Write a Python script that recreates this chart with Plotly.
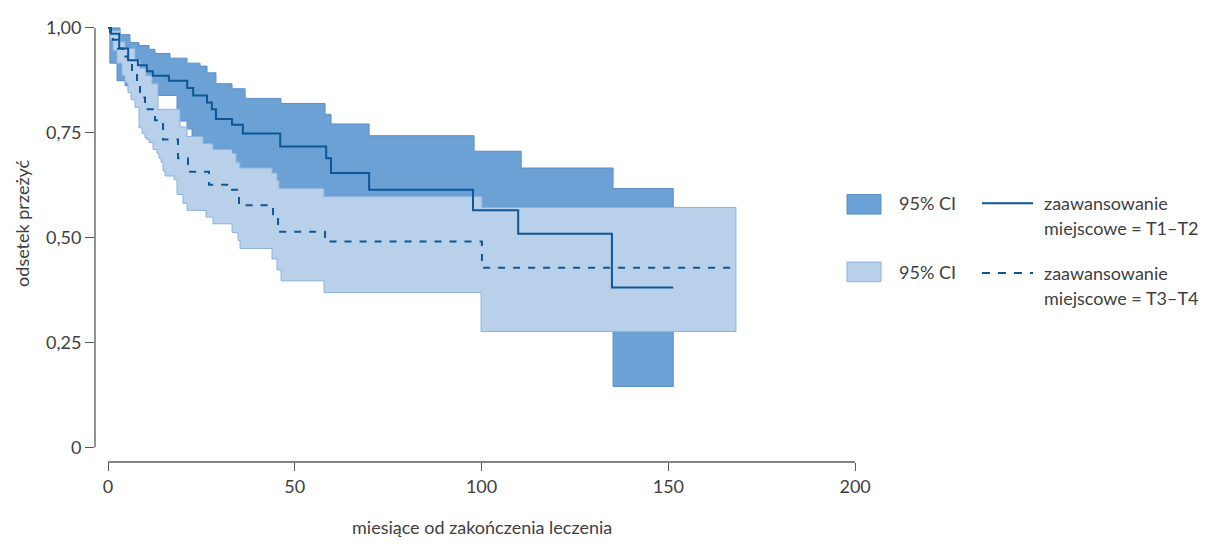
import plotly.graph_objects as go

# ---------------- data ----------------
# Kaplan-Meier: zaawansowanie miejscowe = T1–T2
t12_time = [0, 0.8, 3.0, 5.4, 8.0, 10.4, 12.0, 16.3, 21.2, 22.8, 26.5, 27.8, 28.9, 33.2, 36.1,
            46.1, 58.4, 59.7, 69.9, 97.7, 109.8, 134.9]
t12_surv = [1.0, 0.986, 0.951, 0.923, 0.911, 0.897, 0.886, 0.874, 0.857, 0.839, 0.822, 0.806,
            0.783, 0.769, 0.748, 0.717, 0.689, 0.654, 0.614, 0.565, 0.509, 0.381]
t12_end = 151.3

t12_up_time = [0, 3.21, 5.89, 8.30, 10.98, 12.58, 16.6, 21.15, 24.63, 26.5, 28.9, 33.2, 36.7,
               46.3, 58.1, 59.7, 69.9, 98.0, 110.6, 135.2]
t12_up = [1.0, 0.984, 0.965, 0.958, 0.949, 0.939, 0.928, 0.916, 0.909, 0.893, 0.867, 0.855,
          0.832, 0.820, 0.794, 0.771, 0.743, 0.706, 0.666, 0.617]

t12_lo_time = [0, 0.5, 2.41, 4.55, 8.57, 18.47, 19.28, 21.15, 22.49, 27.3, 33.2, 35.3, 45.25,
               57.8, 99.9, 135.2]
t12_lo = [1.0, 0.916, 0.874, 0.862, 0.839, 0.792, 0.778, 0.759, 0.717, 0.694, 0.659, 0.636,
          0.600, 0.554, 0.484, 0.145]

# Kaplan-Meier: zaawansowanie miejscowe = T3–T4
t34_time = [0, 0.54, 1.34, 2.68, 4.02, 5.35, 6.43, 7.76, 8.57, 9.91, 12.58, 14.73, 18.74,
            21.42, 27.04, 33.2, 35.07, 44.18, 45.52, 58.1, 100.1]
t34_surv = [1.0, 0.986, 0.972, 0.951, 0.932, 0.916, 0.897, 0.876, 0.834, 0.806, 0.780, 0.734,
            0.689, 0.657, 0.626, 0.614, 0.577, 0.556, 0.514, 0.491, 0.428]
t34_end = 168.1

t34_up_time = [0, 0.8, 3.21, 4.55, 7.23, 8.57, 10.17, 11.78, 13.39, 19.28, 21.15, 25.44, 28.1,
               33.2, 34.3, 35.3, 43.9, 45.25, 45.8, 57.8, 100.1]
t34_up = [1.0, 0.993, 0.967, 0.951, 0.923, 0.904, 0.886, 0.867, 0.806, 0.764, 0.741, 0.724,
          0.710, 0.701, 0.680, 0.666, 0.654, 0.636, 0.617, 0.598, 0.572]

t34_lo_time = [0, 0.54, 1.34, 2.41, 3.75, 4.55, 5.35, 6.16, 7.23, 8.30, 9.10, 9.91, 10.44,
               10.98, 12.05, 13.12, 13.65, 14.19, 14.73, 15.26, 17.67, 18.47, 20.08, 21.15,
               26.24, 28.11, 33.2, 34.81, 35.34, 43.91, 45.25, 46.32, 57.83, 99.87]
t34_lo = [1.0, 0.974, 0.946, 0.916, 0.886, 0.869, 0.846, 0.829, 0.811, 0.762, 0.748, 0.738,
          0.734, 0.727, 0.710, 0.701, 0.689, 0.680, 0.659, 0.647, 0.638, 0.603, 0.582, 0.565,
          0.549, 0.533, 0.512, 0.493, 0.474, 0.449, 0.423, 0.397, 0.369, 0.276]

x_ticks = [0, 50, 100, 150, 200]
y_ticks = [0, 0.25, 0.5, 0.75, 1.0]
y_ticktext = ["0", "0,25", "0,50", "0,75", "1,00"]

x_title = "miesiące od zakończenia leczenia"
y_title = "odsetek przeżyć"
ci_label = "95% CI"
group_line1 = "zaawansowanie"
group1_line2 = "miejscowe = T1–T2"
group2_line2 = "miejscowe = T3–T4"

# ---------------- style ----------------
FONT = "Lato"
TXT = "#404040"
AX = "#5a5a5a"
DARK_FILL = "#6ba1d4"
DARK_EDGE = "#5b8fc8"
LIGHT_FILL = "#b9d0ea"
LIGHT_EDGE = "#8cb2de"
CURVE = "#0d5796"
FS = 18

OFF = 8  # page body margin offset
W, H = 1217 - 2 * OFF, 547 - 2 * OFF
PL, PR, PT, PB = 95 - OFF, 857 - OFF, 16 - OFF, 462 - OFF
X_RANGE = [-3.48, 200.5]
Y_RANGE = [-0.035, 1.007]


def step_xy(times, vals, end):
    xs, ys = [times[0]], [vals[0]]
    for i in range(1, len(times)):
        xs += [times[i], times[i]]
        ys += [vals[i - 1], vals[i]]
    xs.append(end)
    ys.append(vals[-1])
    return xs, ys


def band(up_t, up_v, lo_t, lo_v, end):
    ux, uy = step_xy(up_t, up_v, end)
    lx, ly = step_xy(lo_t, lo_v, end)
    return ux + lx[::-1] + [ux[0]], uy + ly[::-1] + [uy[0]]


fig = go.Figure()

bx, by = band(t12_up_time, t12_up, t12_lo_time, t12_lo, t12_end)
fig.add_trace(go.Scatter(x=bx, y=by, mode="lines", fill="toself", fillcolor=DARK_FILL,
                         line=dict(color=DARK_EDGE, width=1), hoverinfo="skip"))
bx, by = band(t34_up_time, t34_up, t34_lo_time, t34_lo, t34_end)
fig.add_trace(go.Scatter(x=bx, y=by, mode="lines", fill="toself", fillcolor=LIGHT_FILL,
                         line=dict(color=LIGHT_EDGE, width=1), hoverinfo="skip"))

fig.add_trace(go.Scatter(x=t12_time + [t12_end], y=t12_surv + [t12_surv[-1]], mode="lines",
                         line=dict(color=CURVE, width=2, shape="hv")))
fig.add_trace(go.Scatter(x=t34_time + [t34_end], y=t34_surv + [t34_surv[-1]], mode="lines",
                         line=dict(color=CURVE, width=2, shape="hv", dash="7px,8px")))


# reference-pixel -> paper coordinates
def px_x(px):
    return (px - OFF - PL) / (PR - PL)


def px_y(py):
    return (PB - (py - OFF)) / (PB - PT)


def dx(v):
    return (v - X_RANGE[0]) / (X_RANGE[1] - X_RANGE[0])


def dy(v):
    return (v - Y_RANGE[0]) / (Y_RANGE[1] - Y_RANGE[0])


shapes = [
    dict(type="line", xref="paper", yref="paper", x0=0, x1=0, y0=dy(0), y1=dy(1),
         line=dict(color=AX, width=1.3)),
    dict(type="line", xref="paper", yref="paper", x0=dx(0), x1=dx(200), y0=0, y1=0,
         line=dict(color=AX, width=1.3)),
    dict(type="rect", xref="paper", yref="paper", x0=px_x(847), x1=px_x(881),
         y0=px_y(209), y1=px_y(189), fillcolor=DARK_FILL, line=dict(color=DARK_EDGE, width=1)),
    dict(type="rect", xref="paper", yref="paper", x0=px_x(847), x1=px_x(881),
         y0=px_y(278), y1=px_y(258), fillcolor=LIGHT_FILL, line=dict(color=LIGHT_EDGE, width=1)),
    dict(type="line", xref="paper", yref="paper", x0=px_x(982), x1=px_x(1033),
         y0=px_y(198), y1=px_y(198), line=dict(color=CURVE, width=2)),
    dict(type="line", xref="paper", yref="paper", x0=px_x(982), x1=px_x(1033),
         y0=px_y(269), y1=px_y(269), line=dict(color=CURVE, width=2, dash="8px,8px")),
]

tf = dict(family=FONT, size=FS, color=TXT)
annotations = [
    dict(text=x_title, xref="paper", yref="paper", x=dx(100), y=px_y(528), xanchor="center",
         yanchor="middle", showarrow=False, font=tf),
    dict(text=y_title, xref="paper", yref="paper", x=px_x(22), y=px_y(219), xanchor="center",
         yanchor="middle", textangle=-90, showarrow=False, font=tf),
    dict(text=ci_label, xref="paper", yref="paper", x=px_x(897), y=px_y(198), xanchor="left",
         yanchor="middle", showarrow=False, font=tf),
    dict(text=ci_label, xref="paper", yref="paper", x=px_x(897), y=px_y(268), xanchor="left",
         yanchor="middle", showarrow=False, font=tf),
    dict(text=group_line1, xref="paper", yref="paper", x=px_x(1042), y=px_y(198),
         xanchor="left", yanchor="middle", showarrow=False, font=tf),
    dict(text=group1_line2, xref="paper", yref="paper", x=px_x(1042), y=px_y(223),
         xanchor="left", yanchor="middle", showarrow=False, font=tf),
    dict(text=group_line1, xref="paper", yref="paper", x=px_x(1042), y=px_y(269),
         xanchor="left", yanchor="middle", showarrow=False, font=tf),
    dict(text=group2_line2, xref="paper", yref="paper", x=px_x(1042), y=px_y(295),
         xanchor="left", yanchor="middle", showarrow=False, font=tf),
]

fig.update_layout(
    width=W, height=H,
    margin=dict(l=PL, r=W - PR, t=PT, b=H - PB, pad=0),
    paper_bgcolor="white", plot_bgcolor="white",
    showlegend=False,
    font=tf,
    shapes=shapes,
    annotations=annotations,
    xaxis=dict(range=X_RANGE, tickvals=x_ticks, ticktext=[str(v) for v in x_ticks],
               ticks="outside", ticklen=8, tickwidth=1.2, tickcolor=AX,
               ticklabeloverflow="allow",
               showgrid=False, zeroline=False, showline=False, tickfont=tf, fixedrange=True),
    yaxis=dict(range=Y_RANGE, tickvals=y_ticks, ticktext=y_ticktext,
               ticks="outside", ticklen=9, tickwidth=1.2, tickcolor=AX,
               ticklabeloverflow="allow",
               showgrid=False, zeroline=False, showline=False, tickfont=tf, fixedrange=True),
)

fig.write_html("out.html")
